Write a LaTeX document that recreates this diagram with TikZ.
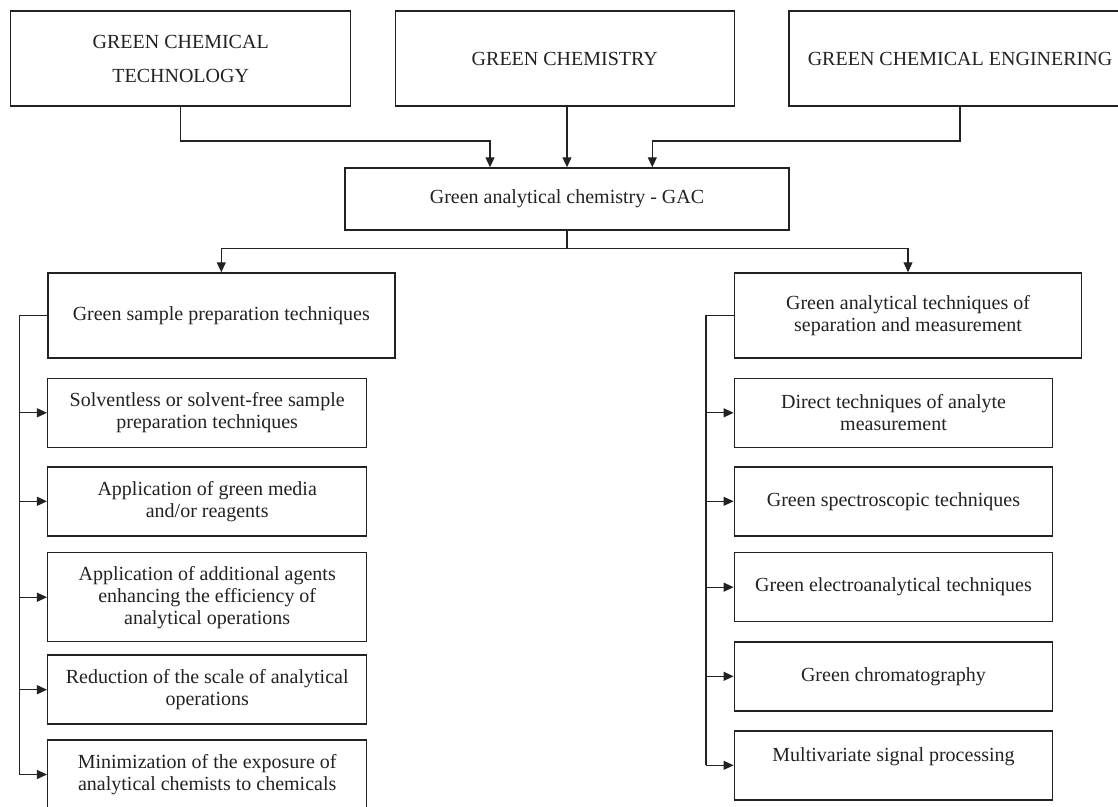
\documentclass[tikz,border=0pt]{standalone}
\usepackage{fontspec}
\setmainfont{Liberation Serif}
\usetikzlibrary{arrows.meta}
\definecolor{ink}{HTML}{222222}
\begin{document}
\begin{tikzpicture}[x=1pt,y=-1pt,
  box/.style={draw=ink,line width=1.5pt,align=center,inner sep=0pt,text=ink,
    font=\fontsize{20}{22}\selectfont},
  topbox/.style={box,minimum height=95pt},
  subbox/.style={box,minimum width=319pt,minimum height=69pt},
  conn/.style={draw=ink,line width=1.2pt},
  arr/.style={conn,-{Triangle[length=10pt,width=9pt]}}]
\useasboundingbox[fill=white] (0,0) rectangle (1118,806);

% top row
\node[topbox,minimum width=340pt,font=\fontsize{20}{34}\selectfont] (b1) at (180.7,58.5) {GREEN CHEMICAL\\TECHNOLOGY};
\node[topbox,minimum width=339pt] (b2) at (564.8,58.5) {GREEN CHEMISTRY};
\node[topbox,minimum width=342pt] (b3) at (960,58.5) {GREEN CHEMICAL ENGINERING};

% centre
\node[box,minimum width=444pt,minimum height=62pt] (gac) at (567,199) {Green analytical chemistry - GAC};

% main branches
\node[box,minimum width=347pt,minimum height=85pt] (l0) at (221.3,315.5) {Green sample preparation techniques};
\node[box,minimum width=347.4pt,minimum height=85pt] (r0) at (908,315.5) {Green analytical techniques of\\separation and measurement};

% left column
\node[subbox] (l1) at (207.2,412.8) {Solventless or solvent-free sample\\preparation techniques};
\node[subbox] (l2) at (207.2,501.3) {Application of green media\\and/or reagents};
\node[subbox,minimum height=89pt] (l3) at (207.2,597.2) {Application of additional agents\\enhancing the efficiency of\\analytical operations};
\node[subbox] (l4) at (207.2,689.7) {Reduction of the scale of analytical\\operations};
\node[subbox] (l5) at (207.2,774.5) {Minimization of the exposure of\\analytical chemists to chemicals};

% right column
\node[subbox,minimum width=318.4pt] (r1) at (893.5,412.8) {Direct techniques of analyte\\measurement};
\node[subbox,minimum width=318.4pt] (r2) at (893.5,501.3) {Green spectroscopic techniques};
\node[subbox,minimum width=318.4pt] (r3) at (893.5,587.2) {Green electroanalytical techniques};
\node[subbox,minimum width=318.4pt] (r4) at (893.5,676.3) {Green chromatography};
\node[subbox,minimum width=318.4pt] (r5) at (893.5,765.3) {Multivariate signal processing\\\mbox{}};

% connectors top -> GAC
\coordinate (j1) at (490,141);
\coordinate (j3) at (652.3,141);
\draw[arr] (b1.south) |- (j1) -- (j1 |- gac.north);
\draw[arr] (b2.south -| gac.north) -- (gac.north);
\draw[arr] (b3.south) |- (j3) -- (j3 |- gac.north);

% GAC -> branches
\coordinate (split) at (567,248.7);
\draw[conn] (gac.south) -- (split);
\draw[arr] (split) -| (l0.north);
\draw[arr] (split) -| (r0.north);

% left spine
\coordinate (ls) at (19.3,315.5);
\draw[conn] (l0.west) -- (ls) -- (ls |- l5.west);
\foreach \i in {1,...,5} \draw[arr] (ls |- l\i.west) -- (l\i.west);

% right spine
\coordinate (rs) at (706,315.5);
\draw[conn] (r0.west) -- (rs) -- (rs |- r5.west);
\foreach \i in {1,...,5} \draw[arr] (rs |- r\i.west) -- (r\i.west);
\end{tikzpicture}
\end{document}
